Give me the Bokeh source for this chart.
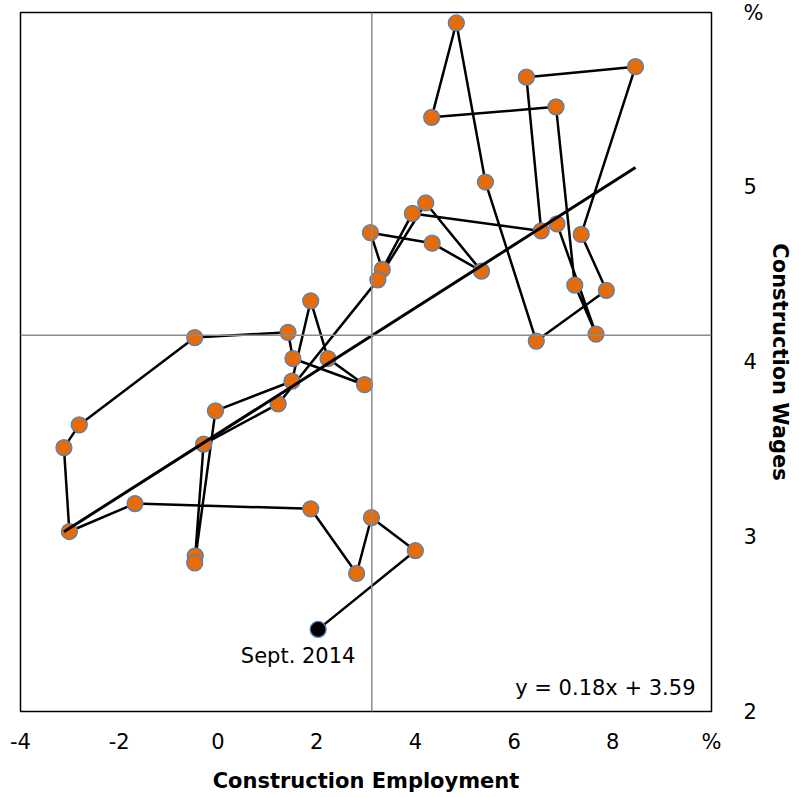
from bokeh.plotting import figure
from bokeh.models import FixedTicker, Span, Label
from bokeh.core.properties import value
from bokeh.embed import file_html
from bokeh.resources import INLINE
import numpy as np

# Monthly observations, oldest first, newest (Sept. 2014) last
employment = [6.87, 7.66, 7.23, 6.85, 4.33, 4.83, 5.42, 6.45, 7.87, 7.36,
              8.46, 6.25, 6.55, 3.94, 3.33, 3.09, 4.34, 5.34, 4.21, 3.24,
              1.22, -0.29, -0.46, -0.47, -0.05, 1.50, 1.88, 2.23, 2.97, 1.52,
              1.42, -0.47, -2.81, -3.12, -3.01, -1.68, 1.88, 2.81, 3.11, 4.00,
              2.03]
wages = [4.79, 4.16, 4.44, 5.46, 5.40, 5.94, 5.03, 4.12, 4.41, 4.73,
         5.69, 5.63, 4.75, 4.85, 4.53, 4.74, 4.68, 4.52, 4.91, 4.47,
         3.76, 3.53, 2.89, 2.85, 3.72, 3.89, 4.35, 4.02, 3.87, 4.02,
         4.17, 4.14, 3.64, 3.51, 3.03, 3.19, 3.16, 2.79, 3.11, 2.92,
         2.47]
last_label = "Sept. 2014"

trend_slope = 0.18
trend_intercept = 3.59

x_ticks = [-4, -2, 0, 2, 4, 6, 8, 10]
x_tick_labels = ["-4", "-2", "0", "2", "4", "6", "8", "%"]
y_ticks = [2, 3, 4, 5, 6]
y_tick_labels = ["2", "3", "4", "5", "%"]

FONT = "DejaVu Sans"

p = figure(frame_width=691, frame_height=699,
           x_range=(-4, 10), y_range=(2, 6),
           y_axis_location="right",
           output_backend="svg", toolbar_location=None,
           min_border_left=20, min_border_top=12,
           min_border_right=70, min_border_bottom=70)
p.background_fill_color = "white"
p.border_fill_color = "white"
p.grid.visible = False
p.outline_line_color = "black"
p.outline_line_width = 1.5

# axes
p.xaxis.ticker = FixedTicker(ticks=x_ticks)
p.xaxis.major_label_overrides = dict(zip(x_ticks, x_tick_labels))
p.yaxis.ticker = FixedTicker(ticks=y_ticks)
p.yaxis.major_label_overrides = dict(zip(y_ticks, y_tick_labels))
for ax in (p.xaxis, p.yaxis):
    ax.axis_line_color = None
    ax.major_tick_line_color = None
    ax.minor_tick_line_color = None
    ax.major_tick_out = 0
    ax.major_tick_in = 0
    ax.major_label_text_font = FONT
    ax.major_label_text_font_size = "21px"
    ax.major_label_text_color = "black"
    ax.axis_label_text_font = FONT
    ax.axis_label_text_font_size = "21px"
    ax.axis_label_text_font_style = "bold"
    ax.axis_label_text_color = "black"
p.xaxis.axis_label = "Construction Employment"
p.yaxis.axis_label = "Construction Wages"
p.xaxis.major_label_standoff = 18
p.yaxis.major_label_standoff = 32
p.xaxis.axis_label_standoff = 12
p.yaxis.axis_label_standoff = 2

# mean cross-hairs
xm = float(np.mean(employment))
ym = float(np.mean(wages))
p.add_layout(Span(location=xm, dimension="height", line_color="#8c8c8c", line_width=1.5))
p.add_layout(Span(location=ym, dimension="width", line_color="#8c8c8c", line_width=1.5))

# time path
p.line(employment, wages, line_color="black", line_width=2.5)

# markers
p.scatter(employment[:-1], wages[:-1], size=16, fill_color="#E46C0A",
          line_color="#4F81BD", line_width=1.25)
p.scatter(employment[-1:], wages[-1:], size=16, fill_color="black",
          line_color="#4F81BD", line_width=1.25)

# trend line
tx = np.array([min(employment), max(employment)])
p.line(tx, trend_slope * tx + trend_intercept, line_color="black", line_width=3)

# labels
p.text(x=employment[-1:], y=wages[-1:], text=[last_label],
       x_offset=-20, y_offset=15, text_align="center", text_baseline="top",
       text_font=value(FONT), text_font_size="21px", text_color="black")

eq = "y = %.2fx + %.2f" % (trend_slope, trend_intercept)
p.add_layout(Label(x=10, y=2, text=eq, x_offset=-16, y_offset=12,
                   text_align="right", text_baseline="bottom",
                   text_font=FONT, text_font_size="21px", text_color="black"))

open("out.html", "w").write(file_html(p, INLINE))
